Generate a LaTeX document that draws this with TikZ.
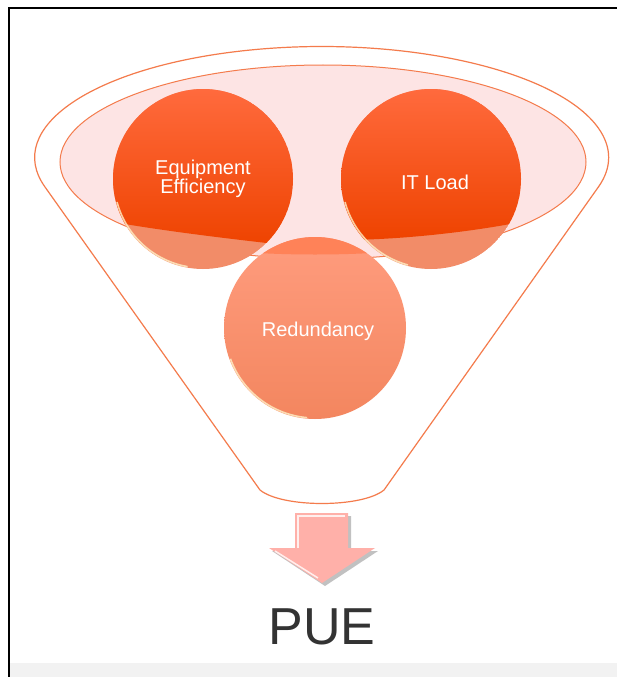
\documentclass[tikz,border=0pt]{standalone}
\usepackage{fontspec}
\setmainfont{Liberation Sans}
\usetikzlibrary{calc}
\definecolor{FunnelLine}{HTML}{F47B4C}
\definecolor{RimPink}{HTML}{FDE4E4}
\definecolor{BallTop}{HTML}{FF6A3D}
\definecolor{BallLow}{HTML}{EE4300}
\definecolor{BallBand}{HTML}{F28C68}
\definecolor{RedTop}{HTML}{FF9C7E}
\definecolor{RedLow}{HTML}{F3865F}
\definecolor{RedCap}{HTML}{FF8258}
\definecolor{RimGlow}{HTML}{FFF2C8}
\definecolor{ArrowPink}{HTML}{FFB0A9}
\definecolor{PueGray}{HTML}{333333}
\definecolor{StripGray}{HTML}{F2F2F2}
\tikzset{
  funnelline/.style={draw=FunnelLine, line width=1.2pt},
  balltext/.style={text=white, font=\fontsize{20}{19}\selectfont, align=center, inner sep=0pt},
  rimglow/.style={draw=RimGlow, line width=1.6pt, opacity=0.8},
  puetext/.style={text=PueGray, font=\fontsize{52}{52}\selectfont, inner sep=0pt}
}

\begin{document}
\begin{tikzpicture}[x=1pt, y=-1pt]
  \useasboundingbox (0,0) rectangle (617,677);
  \fill[white] (0,0) rectangle (617,677);

  % frame
  \fill[StripGray] (10,663) rectangle (617,677);
  \draw[black, line width=2pt] (9,677) -- (9,8) -- (617,8);

  % funnel and rim
  \draw[funnelline, fill=white] (45,187) arc[start angle=164.6, end angle=375.4, x radius=287, y radius=111]
    -- (384,490) .. controls (362,508) and (282,508) .. (260,490) -- cycle;
  \draw[draw=FunnelLine, line width=1pt, fill=RimPink] (323,162) ellipse[x radius=263, y radius=97];

  % balls
  \coordinate (equipc) at (203,179);
  \coordinate (itloadc) at (431,179);
  \coordinate (redundc) at (315,328);

  \begin{scope}
    \clip (equipc) circle[radius=90];
    \fill[BallBand] (equipc) circle[radius=90];
    \shade[top color=BallTop, bottom color=BallLow] (113,89) -- (293,89) -- (293,246)
      .. controls (240,240) and (170,232) .. (113,222) -- cycle;
  \end{scope}
  \draw[rimglow] (equipc) ++(100:89) arc[start angle=100, end angle=165, radius=89];

  \begin{scope}
    \clip (itloadc) circle[radius=90];
    \fill[BallBand] (itloadc) circle[radius=90];
    \shade[top color=BallTop, bottom color=BallLow] (341,89) -- (521,89) -- (521,222)
      .. controls (470,232) and (400,240) .. (341,240) -- cycle;
  \end{scope}
  \draw[rimglow] (itloadc) ++(105:89) arc[start angle=105, end angle=165, radius=89];

  \begin{scope}
    \clip (redundc) circle[radius=91];
    \shade[top color=RedTop, bottom color=RedLow] (redundc) circle[radius=91];
    \fill[RedCap] (224,237) -- (406,237) -- (406,250) .. controls (360,256) and (270,256) .. (224,250) -- cycle;
  \end{scope}
  \draw[rimglow] (redundc) ++(95:90) arc[start angle=95, end angle=160, radius=90];

  \node[balltext] (equip) at (203,179) {Equipment\\Efficiency};
  \node[balltext] (itload) at (435,182) {IT Load};
  \node[balltext] (redund) at (318,331) {Redundancy};

  % arrow
  \fill[black!40, opacity=0.6] (298,516) -- (351,516) -- (351,551) -- (378,551) -- (325,586) -- (272,551) -- (298,551) -- cycle;
  \fill[ArrowPink] (295,513) -- (348,513) -- (348,548) -- (375,548) -- (322,583) -- (269,548) -- (295,548) -- cycle;
  \draw[white, line width=1.5pt, opacity=0.8] (298,548) -- (298,516) -- (345,516);
  \draw[white, line width=1.5pt, opacity=0.8] (275,551) -- (318,578);

  \node[puetext] (pue) at (322,627) {PUE};
\end{tikzpicture}
\end{document}
